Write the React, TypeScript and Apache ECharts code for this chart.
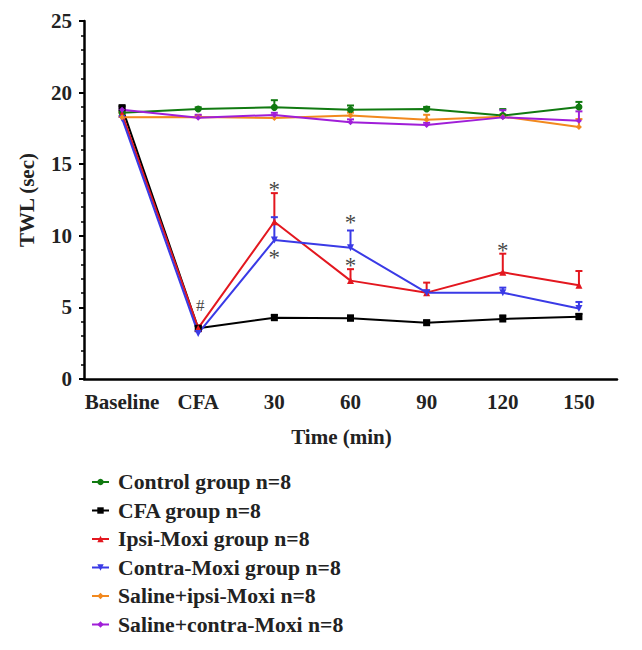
import React, { useEffect, useRef } from "react";
import * as echarts from "echarts";

const categories = ["Baseline", "CFA", "30", "60", "90", "120", "150"];

const seriesNames = [
  "Control group n=8",
  "CFA group n=8",
  "Ipsi-Moxi group n=8",
  "Contra-Moxi group n=8",
  "Saline+ipsi-Moxi n=8",
  "Saline+contra-Moxi n=8",
];

const controlMean = [18.6, 18.85, 18.97, 18.8, 18.85, 18.4, 19.0];
const controlErr = [0.1, 0.12, 0.5, 0.3, 0.15, 0.45, 0.35];
const cfaMean = [18.95, 3.54, 4.28, 4.24, 3.93, 4.19, 4.35];
const cfaErr = [0.1, 0.15, 0.2, 0.2, 0.15, 0.25, 0.2];
const ipsiMean = [18.5, 3.55, 10.98, 6.87, 6.03, 7.45, 6.54];
const ipsiErr = [0.1, 0.2, 2.0, 0.8, 0.7, 1.3, 1.0];
const contraMean = [18.2, 3.18, 9.7, 9.17, 6.03, 6.03, 4.93];
const contraErr = [0.1, 0.15, 1.6, 1.2, 0.15, 0.35, 0.45];
const salIpsiMean = [18.27, 18.3, 18.22, 18.4, 18.1, 18.32, 17.6];
const salIpsiErr = [0.1, 0.1, 0.2, 0.2, 0.35, 0.15, 0.55];
const salContraMean = [18.8, 18.25, 18.44, 17.93, 17.74, 18.27, 18.04];
const salContraErr = [0.1, 0.2, 0.15, 0.2, 0.15, 0.5, 0.65];

// annotations
const starCats = ["30", "30", "60", "60", "120"];
const starValues = [13.6, 8.85, 11.3, 8.3, 9.3];
const hashCats = ["CFA"];
const hashValues = [5.1];

const colors = ["#117a11", "#000000", "#e3171f", "#3a3ae6", "#f2891e", "#a01ed8"];
const symbols = ["circle", "rect", "triangle", "triangle", "diamond", "diamond"];
const symbolRotates = [0, 0, 0, 180, 0, 0];
const symbolSizes = [7, 7, 7, 7, 6, 6];

const means = [controlMean, cfaMean, ipsiMean, contraMean, salIpsiMean, salContraMean];
const errs = [controlErr, cfaErr, ipsiErr, contraErr, salIpsiErr, salContraErr];

const FONT = "'Liberation Serif', 'Times New Roman', serif";

export default function App() {
  const ref = useRef<HTMLDivElement>(null);
  useEffect(() => {
    if (!ref.current) return;
    const chart = echarts.init(ref.current, null, { renderer: "svg" });

    const lineSeries = seriesNames.map((name, i) => ({
      name,
      type: "line",
      data: means[i],
      symbol: symbols[i],
      symbolSize: symbolSizes[i],
      symbolRotate: symbolRotates[i],
      showSymbol: true,
      lineStyle: { color: colors[i], width: 2 },
      itemStyle: { color: colors[i] },
      z: 3,
    }));

    const errSeries = seriesNames.map((name, i) => ({
      name: name + " SEM",
      type: "custom",
      data: means[i].map((m, j) => [j, m, errs[i][j]]),
      encode: { x: 0, y: 1 },
      z: 2,
      renderItem: (params: any, api: any) => {
        const x = api.value(0);
        const y = api.value(1);
        const e = api.value(2);
        const p0 = api.coord([x, y]);
        const p1 = api.coord([x, y + e]);
        return {
          type: "group",
          children: [
            {
              type: "line",
              shape: { x1: p0[0], y1: p0[1], x2: p1[0], y2: p1[1] },
              style: { stroke: colors[i], lineWidth: 2 },
            },
            {
              type: "line",
              shape: { x1: p1[0] - 3.5, y1: p1[1], x2: p1[0] + 3.5, y2: p1[1] },
              style: { stroke: colors[i], lineWidth: 2 },
            },
          ],
        };
      },
    }));

    const annSeries = [
      {
        name: "stars",
        type: "scatter",
        symbolSize: 0,
        data: starCats.map((c, k) => [c, starValues[k]]),
        label: {
          show: true,
          position: "inside",
          formatter: "*",
          color: "#111",
          fontFamily: FONT,
          fontSize: 23,
          offset: [0, 5],
        },
        z: 5,
      },
      {
        name: "hash",
        type: "scatter",
        symbolSize: 0,
        data: hashCats.map((c, k) => [c, hashValues[k]]),
        label: {
          show: true,
          position: "inside",
          formatter: "#",
          color: "#111",
          fontFamily: FONT,
          fontSize: 17,
          offset: [2, 0],
        },
        z: 5,
      },
    ];

    chart.setOption({
      animation: false,
      grid: { left: 73, right: 17, top: 13, bottom: 263, containLabel: false },
      xAxis: {
        type: "category",
        data: categories,
        boundaryGap: true,
        name: "Time (min)",
        nameLocation: "middle",
        nameGap: 47,
        nameTextStyle: {
          fontFamily: FONT,
          fontWeight: "bold",
          fontSize: 21,
          color: "#222",
          padding: [0, 18, 0, 0],
        },
        axisLine: { lineStyle: { color: "#000", width: 2.5 } },
        axisTick: { alignWithLabel: true, length: 4, lineStyle: { color: "#000", width: 2 } },
        axisLabel: {
          interval: 0,
          fontFamily: FONT,
          fontWeight: "bold",
          fontSize: 21,
          color: "#222",
          margin: 12,
        },
        splitLine: { show: false },
      },
      yAxis: {
        type: "value",
        min: 0,
        max: 25,
        interval: 5,
        name: "TWL (sec)",
        nameLocation: "middle",
        nameGap: 47,
        nameRotate: 90,
        nameTextStyle: { fontFamily: FONT, fontWeight: "bold", fontSize: 21, color: "#222" },
        axisLine: { show: true, lineStyle: { color: "#000", width: 2.5 } },
        axisTick: { show: true, length: 5, lineStyle: { color: "#000", width: 2 } },
        minorTick: { show: true, splitNumber: 5, length: 3, lineStyle: { color: "#000", width: 1.5 } },
        axisLabel: {
          fontFamily: FONT,
          fontWeight: "bold",
          fontSize: 21,
          color: "#222",
          margin: 12,
        },
        splitLine: { show: false },
      },
      legend: {
        data: seriesNames,
        orient: "vertical",
        left: 78,
        top: 457,
        itemWidth: 17,
        itemHeight: 8,
        itemGap: 4.5,
        textStyle: {
          fontFamily: FONT,
          fontWeight: "bold",
          fontSize: 21.7,
          color: "#222",
          lineHeight: 24,
          padding: [0, 0, 0, 4],
        },
      },
      series: [...errSeries, ...lineSeries, ...annSeries],
    });

    return () => chart.dispose();
  }, []);

  return <div ref={ref} style={{ width: 626, height: 634 }} />;
}
